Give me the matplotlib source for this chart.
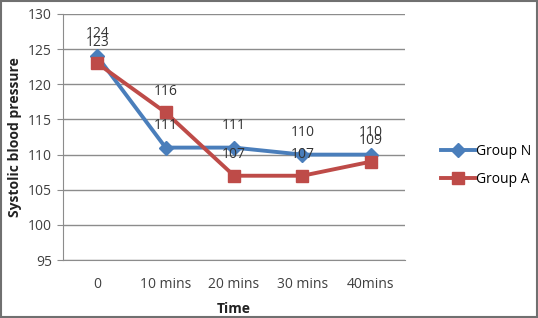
import matplotlib
matplotlib.use("Agg")
import matplotlib.pyplot as plt

times = ["0", "10 mins", "20 mins", "30 mins", "40mins"]
group_n = [124, 111, 111, 110, 110]
group_a = [123, 116, 107, 107, 109]
yticks = [95, 100, 105, 110, 115, 120, 125, 130]

plt.rcParams['font.family'] = ['Open Sans', 'DejaVu Sans']

fig = plt.figure(figsize=(5.38, 3.18), dpi=100)
ax = fig.add_axes([0.117, 0.182, 0.636, 0.774])

x = list(range(len(times)))
blue = "#4A7EBB"
red = "#BE4B48"
ax.plot(x, group_n, color=blue, lw=2.8, marker="D", ms=7, label="Group N", zorder=3)
ax.plot(x, group_a, color=red, lw=2.8, marker="s", ms=9, label="Group A", zorder=3)

# data labels sit above each point (they overlap in the original too)
for xi, v in zip(x, group_n):
    ax.annotate(str(v), (xi, v), xytext=(0, 16), textcoords="offset points",
                ha="center", va="center", fontsize=10, color="#333333")
for xi, v in zip(x, group_a):
    ax.annotate(str(v), (xi, v), xytext=(0, 15), textcoords="offset points",
                ha="center", va="center", fontsize=10, color="#333333")

ax.set_xlim(-0.5, len(times) - 0.5)
ax.set_ylim(95, 130)
ax.set_xticks(x)
ax.set_xticklabels(times)
ax.set_yticks(yticks)
ax.tick_params(axis="both", labelsize=10, colors="#404040", length=0, pad=12)
ax.tick_params(axis="y", length=4, color="#8c8c8c", pad=4)
ax.grid(axis="y", color="#8c8c8c", lw=1)
ax.set_axisbelow(True)
for s in ["top", "right"]:
    ax.spines[s].set_visible(False)
ax.spines["left"].set_color("#8c8c8c")
ax.spines["bottom"].set_color("#8c8c8c")

ax.set_xlabel("Time", fontsize=10, fontweight="bold", color="#222222", labelpad=7)
ax.set_ylabel("Systolic blood pressure", fontsize=10, fontweight="bold", color="#222222", labelpad=4)

fig.legend(loc="center left", bbox_to_anchor=(0.797, 0.48), frameon=False, fontsize=10,
           handlelength=2.4, labelspacing=0.95, handletextpad=0.1)

fig.patches.append(plt.Rectangle((0.002, 0.003), 0.996, 0.994, transform=fig.transFigure,
                                 fill=False, edgecolor="#707070", lw=1.5))

fig.savefig("out.png", dpi=100)
